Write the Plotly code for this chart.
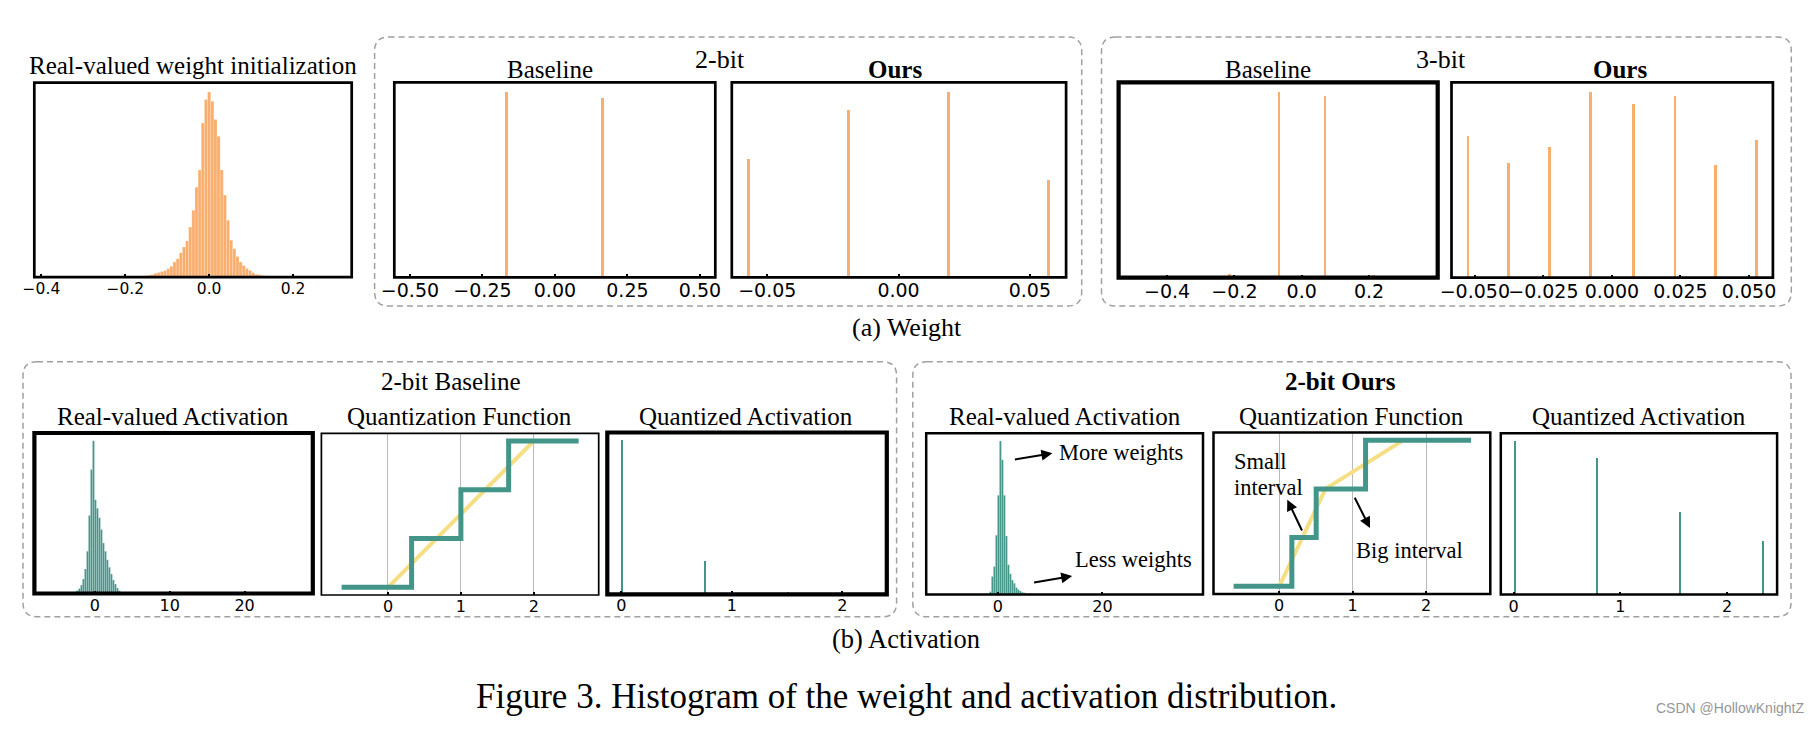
import plotly.graph_objects as go

W, H = 1812, 730

# ---------------- data ----------------
# (a) weight: real-valued initialization histogram
w_init_centers = [-0.18, -0.1725, -0.165, -0.1575, -0.15, -0.1425, -0.135, -0.1275, -0.12, -0.1125,
                  -0.105, -0.0975, -0.09, -0.0825, -0.075, -0.0675, -0.06, -0.0525, -0.045, -0.0375,
                  -0.03, -0.0225, -0.015, -0.0075, 0.0, 0.0075, 0.015, 0.0225, 0.03, 0.0375,
                  0.045, 0.0525, 0.06, 0.0675, 0.075, 0.0825, 0.09, 0.0975, 0.105, 0.1125,
                  0.12, 0.1275, 0.135, 0.1425, 0.15, 0.1575]
w_init_counts = [1, 1, 2, 3, 4, 6, 8, 12, 14, 17,
                 20, 25, 33, 45, 55, 73, 90, 108, 150, 200,
                 268, 320, 460, 530, 552, 525, 470, 420, 320, 245,
                 170, 110, 85, 62, 45, 35, 26, 20, 13, 9,
                 7, 5, 4, 3, 2, 1]

# 2-bit weights
w2_base_x = [-0.1675, 0.165]
w2_base_h = [1.0, 0.966]
w2_ours_x = [-0.0572, -0.0191, 0.0190, 0.0572]
w2_ours_h = [0.638, 0.899, 1.0, 0.525]
# 3-bit weights
w3_base_x = [-0.214, -0.0673, 0.0693, 0.214]
w3_base_h = [0.02, 1.0, 0.975, 0.012]
w3_ours_x = [-0.0525, -0.0377, -0.0228, -0.0077, 0.0080, 0.0230, 0.0377, 0.0528]
w3_ours_h = [0.759, 0.616, 0.705, 1.0, 0.935, 0.978, 0.607, 0.738]

# (b) activation, baseline real-valued histogram
a_base_centers = [-2.84, -2.57, -2.31, -2.04, -1.77, -1.51, -1.24, -0.97, -0.71, -0.44,
                  -0.17, 0.09, 0.36, 0.63, 0.89, 1.16, 1.43, 1.69, 1.96, 2.23,
                  2.49, 2.76, 3.03, 3.29, 3.56]
a_base_counts = [3, 5, 9, 15, 25, 43, 73, 125, 231, 368,
                 453, 278, 253, 225, 190, 150, 125, 100, 78, 58,
                 40, 28, 16, 8, 3]
# activation, ours real-valued histogram
a_ours_centers = [-1.4, -1.02, -0.64, -0.25, 0.13, 0.51, 0.89, 1.27, 1.66, 2.04,
                  2.42, 2.8, 3.18, 3.57, 3.95, 4.33, 4.71, 5.1, 5.48, 5.86,
                  6.24, 6.62]
a_ours_counts = [8, 53, 83, 175, 293, 453, 398, 293, 173, 88,
                 61, 43, 33, 21, 15, 10, 7, 5, 3, 2,
                 2, 1]

# quantization functions
stair_levels = [0.0, 0.667, 1.333, 2.0, 2.0]
stair_base_x = [-0.636, 0.324, 1.0, 1.655, 2.615]
stair_ours_x = [-0.62, 0.172, 0.503, 1.175, 2.61]
ident_base_x = [0.0, 2.0]
ident_base_y = [0.0, 2.0]
ident_ours_x = [0.0, 0.63, 1.69]
ident_ours_y = [0.0, 1.333, 2.0]

# quantized activations
qa_base_x = [0.009, 0.76, 1.511, 2.262]
qa_base_h = [1.0, 0.218, 0.018, 0.006]
qa_ours_x = [0.011, 0.785, 1.559, 2.338]
qa_ours_h = [1.0, 0.891, 0.535, 0.35]

# tick labels
ticks_w0 = [-0.4, -0.2, 0.0, 0.2]
labels_w0 = ["\u22120.4", "\u22120.2", "0.0", "0.2"]
ticks_w1 = [-0.5, -0.25, 0.0, 0.25, 0.5]
labels_w1 = ["\u22120.50", "\u22120.25", "0.00", "0.25", "0.50"]
ticks_w2 = [-0.05, 0.0, 0.05]
labels_w2 = ["\u22120.05", "0.00", "0.05"]
ticks_w3 = [-0.4, -0.2, 0.0, 0.2]
labels_w3 = ["\u22120.4", "\u22120.2", "0.0", "0.2"]
ticks_w4 = [-0.05, -0.025, 0.0, 0.025, 0.05]
labels_w4 = ["\u22120.050", "\u22120.025", "0.000", "0.025", "0.050"]
ticks_a1 = [0, 10, 20]
labels_a1 = ["0", "10", "20"]
ticks_b1 = [0, 20]
labels_b1 = ["0", "20"]
ticks_q = [0, 1, 2]
labels_q = ["0", "1", "2"]

# ---------------- styling ----------------
ORANGE = "rgb(249,174,110)"
TEAL = "rgb(66,149,136)"
YELLOW = "rgb(246,222,132)"
SERIF = "Liberation Serif"
SANS = "DejaVu Sans"

# key, pixel box (x0, x1, y0, y1), xrange, yrange, tickvals, ticktext, tick size, frame width, grid
specs = [
    ("W0", (34.3, 351.7, 82.7, 277.2), [-0.417, 0.340], [0, 580], ticks_w0, labels_w0, 15.5, 2.7, False),
    ("W1", (394.3, 715.3, 82.3, 277.3), [-0.554, 0.553], [0, 1.05], ticks_w1, labels_w1, 19, 2.7, False),
    ("W2", (731.8, 1066.1, 82.3, 277.3), [-0.0635, 0.0638], [0, 1.05], ticks_w2, labels_w2, 19, 2.7, False),
    ("W3", (1118.6, 1437.7, 82.3, 277.7), [-0.544, 0.404], [0, 1.05], ticks_w3, labels_w3, 19, 4.2, False),
    ("W4", (1451.5, 1772.9, 82.3, 277.7), [-0.0585, 0.0587], [0, 1.05], ticks_w4, labels_w4, 19, 2.7, False),
    ("A1", (34.4, 312.8, 433.0, 593.5), [-8.05, 29.1], [0, 476], ticks_a1, labels_a1, 16, 4.2, False),
    ("A2", (321.4, 598.7, 433.3, 595.0), [-0.913, 2.89], [-0.105, 2.105], ticks_q, labels_q, 16, 1.7, True),
    ("A3", (607.3, 886.8, 432.5, 594.3), [-0.127, 2.403], [0, 1.05], ticks_q, labels_q, 16, 4.2, False),
    ("B1", (926.2, 1203.0, 433.3, 594.5), [-13.66, 39.2], [0, 476], ticks_b1, labels_b1, 16, 2.5, False),
    ("B2", (1213.5, 1490.3, 432.5, 594.0), [-0.894, 2.872], [-0.105, 2.105], ticks_q, labels_q, 16, 2.5, True),
    ("B3", (1500.8, 1777.1, 433.3, 594.5), [-0.12, 2.469], [0, 1.05], ticks_q, labels_q, 16, 2.5, False),
]

fig = go.Figure()
layout = dict(
    width=W, height=H, autosize=False,
    margin=dict(l=0, r=0, t=0, b=0, pad=0, autoexpand=False),
    paper_bgcolor="white", plot_bgcolor="white",
    showlegend=False, hovermode=False, bargap=0,
)
shapes = []
axref = {}

for i, (key, (x0, x1, y0, y1), xr, yr, tv, tt, tsz, fw, grid) in enumerate(specs, start=1):
    sx = "" if i == 1 else str(i)
    axref[key] = ("x" + sx, "y" + sx)
    layout["xaxis" + sx] = dict(
        domain=[x0 / W, x1 / W], range=xr, anchor="y" + sx, automargin=False,
        showline=False, zeroline=False, showgrid=grid,
        gridcolor="rgb(185,185,185)", gridwidth=1,
        tickmode="array", tickvals=tv, ticktext=tt, tickangle=0,
        ticks="inside", ticklen=3, tickwidth=2, tickcolor="black",
        tickfont=dict(family=SANS, size=tsz, color="black"),
        fixedrange=True,
    )
    layout["yaxis" + sx] = dict(
        domain=[1 - y1 / H, 1 - y0 / H], range=yr, anchor="x" + sx, automargin=False,
        showline=False, zeroline=False, showgrid=False, showticklabels=False,
        ticks="", fixedrange=True,
    )
    shapes.append(dict(type="rect", xref="paper", yref="paper",
                       x0=x0 / W, x1=x1 / W, y0=1 - y1 / H, y1=1 - y0 / H,
                       line=dict(color="black", width=fw), layer="above"))


def add_bar(key, x, y, width, color, edge=0.0):
    xa, ya = axref[key]
    fig.add_trace(go.Bar(x=x, y=y, width=width, xaxis=xa, yaxis=ya,
                         marker=dict(color=color, line=dict(color="rgba(255,255,255,0.7)", width=edge))))


def add_line(key, x, y, color, width, shape="linear"):
    xa, ya = axref[key]
    fig.add_trace(go.Scatter(x=x, y=y, mode="lines", xaxis=xa, yaxis=ya,
                             line=dict(color=color, width=width, shape=shape)))


add_bar("W0", w_init_centers, w_init_counts, 0.0075, ORANGE, 0.3)
add_bar("W1", w2_base_x, w2_base_h, 0.0095, ORANGE)
add_bar("W2", w2_ours_x, w2_ours_h, 0.00105, ORANGE)
add_bar("W3", w3_base_x, w3_base_h, 0.0082, ORANGE)
add_bar("W4", w3_ours_x, w3_ours_h, 0.001, ORANGE)
add_bar("A1", a_base_centers, a_base_counts, 0.267, TEAL, 0.3)
add_line("A2", ident_base_x, ident_base_y, YELLOW, 4)
add_line("A2", stair_base_x, stair_levels, TEAL, 5, "hv")
add_bar("A3", qa_base_x, qa_base_h, 0.018, TEAL)
add_bar("B1", a_ours_centers, a_ours_counts, 0.38, TEAL, 0.3)
add_line("B2", ident_ours_x, ident_ours_y, YELLOW, 4)
add_line("B2", stair_ours_x, stair_levels, TEAL, 5, "hv")
add_bar("B3", qa_ours_x, qa_ours_h, 0.019, TEAL)


# dashed rounded group boxes
def rounded(x0, x1, y0, y1, r=14):
    rx, ry = r / W, r / H
    X0, X1 = x0 / W, x1 / W
    Yt, Yb = 1 - y0 / H, 1 - y1 / H
    return (f"M {X0+rx},{Yt} L {X1-rx},{Yt} Q {X1},{Yt} {X1},{Yt-ry} "
            f"L {X1},{Yb+ry} Q {X1},{Yb} {X1-rx},{Yb} L {X0+rx},{Yb} "
            f"Q {X0},{Yb} {X0},{Yb+ry} L {X0},{Yt-ry} Q {X0},{Yt} {X0+rx},{Yt} Z")


for (bx0, bx1, by0, by1) in [(374.6, 1081.7, 37, 306), (1101.5, 1791.3, 37, 306),
                             (23, 896.6, 361.7, 616.7), (912.8, 1791, 361.7, 616.7)]:
    shapes.append(dict(type="path", xref="paper", yref="paper", path=rounded(bx0, bx1, by0, by1),
                       line=dict(color="rgb(160,160,160)", width=1.5, dash="6px,4px"),
                       layer="below"))

layout["shapes"] = shapes

annotations = []


def text(t, x, y, size, family=SERIF, xanchor="center", color="black"):
    annotations.append(dict(text=t, x=x / W, y=1 - y / H, xref="paper", yref="paper",
                            xanchor=xanchor, yanchor="middle", showarrow=False,
                            font=dict(family=family, size=size, color=color)))


text("Real-valued weight initialization", 192.5, 65, 25)
text("2-bit", 720.3, 59, 26)
text("Baseline", 550, 70, 25)
text("<b>Ours</b>", 894.8, 70, 25)
text("3-bit", 1441.4, 59, 26)
text("Baseline", 1268.2, 70, 25)
text("<b>Ours</b>", 1619.6, 70, 25)
text("(a) Weight", 907, 328, 26)

text("2-bit Baseline", 450.6, 382, 25)
text("<b>2-bit Ours</b>", 1340.9, 382, 25)
for cx, t in [(173.3, "Real-valued Activation"), (459.2, "Quantization Function"),
              (746.2, "Quantized Activation"), (1064.6, "Real-valued Activation"),
              (1351.9, "Quantization Function"), (1638.6, "Quantized Activation")]:
    text(t, cx, 416, 25)
text("(b) Activation", 906, 638.5, 26.5)

text("More weights", 1057, 452, 22.5, xanchor="left")
text("Less weights", 1072.7, 559, 22.5, xanchor="left")
text("Small", 1231.7, 461, 22.5, xanchor="left")
text("interval", 1231.7, 487, 22.5, xanchor="left")
text("Big interval", 1354, 550, 22.5, xanchor="left")

text("Figure 3. Histogram of the weight and activation distribution.", 906, 696, 35)
text("CSDN @HollowKnightZ", 1730, 708, 14, family="Liberation Sans", color="rgb(150,150,150)")


def arrow(tail, head):
    annotations.append(dict(text="", x=head[0] / W, y=1 - head[1] / H, xref="paper", yref="paper",
                            ax=tail[0] - head[0], ay=tail[1] - head[1], axref="pixel", ayref="pixel",
                            showarrow=True, arrowhead=2, arrowsize=1.1, arrowwidth=2,
                            arrowcolor="black", standoff=0, startstandoff=0))


arrow((1013.4, 459.7), (1052.4, 453.3))
arrow((1032.6, 582.7), (1072.2, 576.0))
arrow((1302.7, 532.0), (1287.3, 499.7))
arrow((1354.0, 496.3), (1370.0, 528.0))

layout["annotations"] = annotations
fig.update_layout(**layout)
fig.write_html("out.html", config={"displayModeBar": False, "staticPlot": True},
               post_script="document.body.style.margin='0px';document.body.style.overflow='hidden';")
